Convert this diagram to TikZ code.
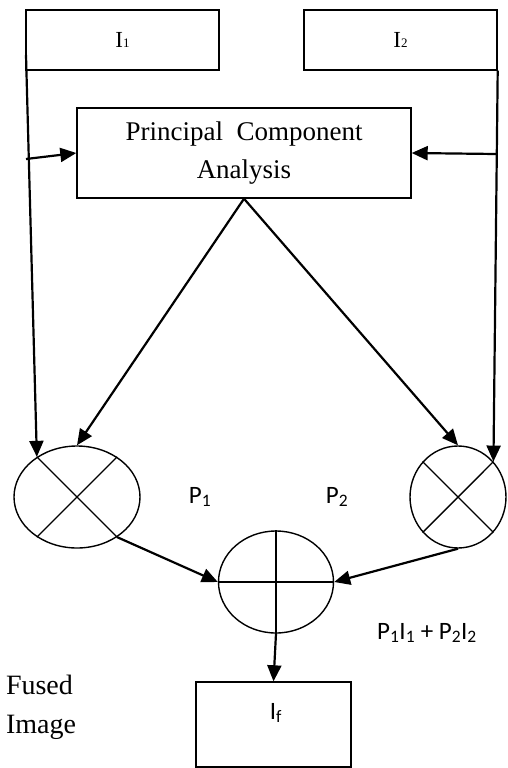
\documentclass[tikz,border=0pt]{standalone}
\usepackage{fontspec}
\setmainfont{Liberation Serif}
\newfontfamily\calfont{Carlito}
\usetikzlibrary{arrows.meta, shapes.geometric}

\begin{document}
\begin{tikzpicture}[x=1pt, y=1pt,
  box/.style={draw, line width=1.4pt, inner sep=0pt},
  mult/.style={draw, ellipse, line width=1.4pt, inner sep=0pt},
  arr/.style={line width=2.2pt, -{Triangle[length=16pt, width=14pt]}},
  cross/.style={line width=1.4pt},
  lbl/.style={font=\calfont\fontsize{25}{30}\selectfont},
  every node/.style={font=\fontsize{23}{28}\selectfont}]
  \useasboundingbox (0,0) rectangle (507,-768);

  % Input images
  \node[box, minimum width=193pt, minimum height=60pt] (i1) at (122.5,-40) {I{\fontsize{13}{14}\selectfont 1}};
  \node[box, minimum width=193pt, minimum height=60pt] (i2) at (400.5,-40) {I{\fontsize{13}{14}\selectfont 2}};

  % PCA block
  \node[box, minimum width=334pt, minimum height=90pt, align=center,
        font=\fontsize{27}{38}\selectfont] (pca) at (244,-153)
        {Principal\ \ Component\\Analysis};

  % Multipliers and adder
  \node[mult, minimum width=126pt, minimum height=102pt] (m1) at (77,-497) {};
  \node[mult, minimum width=96pt, minimum height=102pt] (m2) at (458,-497) {};
  \node[mult, minimum width=115pt, minimum height=102pt] (sum) at (276,-582) {};
  \draw[cross] (m1.45) -- (m1.225);
  \draw[cross] (m1.135) -- (m1.-45);
  \draw[cross] (m2.45) -- (m2.225);
  \draw[cross] (m2.135) -- (m2.-45);
  \draw[cross] (sum.north) -- (sum.south);
  \draw[cross] (sum.west) -- (sum.east);

  % Output image
  \node[box, minimum width=155pt, minimum height=85pt] (out) at (273.5,-724.5) {};
  \node[lbl] (if) at (276,-713) {I\textsubscript{f}};

  % Labels
  \node[lbl] (p1) at (200,-497) {P\textsubscript{1}};
  \node[lbl] (p2) at (337,-497) {P\textsubscript{2}};
  \node[lbl] (res) at (427,-633)
        {P\textsubscript{1}I\textsubscript{1} + P\textsubscript{2}I\textsubscript{2}};
  \node[align=left, font=\fontsize{28}{39}\selectfont] (fused) at (41,-707) {Fused\\Image};

  % Connections
  \coordinate (l1) at (26,-55);
  \coordinate (l2) at (27,-159);
  \coordinate (r2) at (496,-154);
  \draw[arr] (l1) -- (m1.135);
  \draw[arr] (l1 |- l2) -- (pca.west);
  \draw[arr] (i2.south east) -- (m2.45);
  \draw[arr] (r2) -- (pca.east);
  \draw[arr] (pca.south) -- (m1.north);
  \draw[arr] (pca.south) -- (m2.north);
  \draw[arr] (m1.-45) -- (sum.west);
  \draw[arr] (m2.south) -- (sum.east);
  \draw[arr] (sum.south) -- (out.north);
\end{tikzpicture}
\end{document}
